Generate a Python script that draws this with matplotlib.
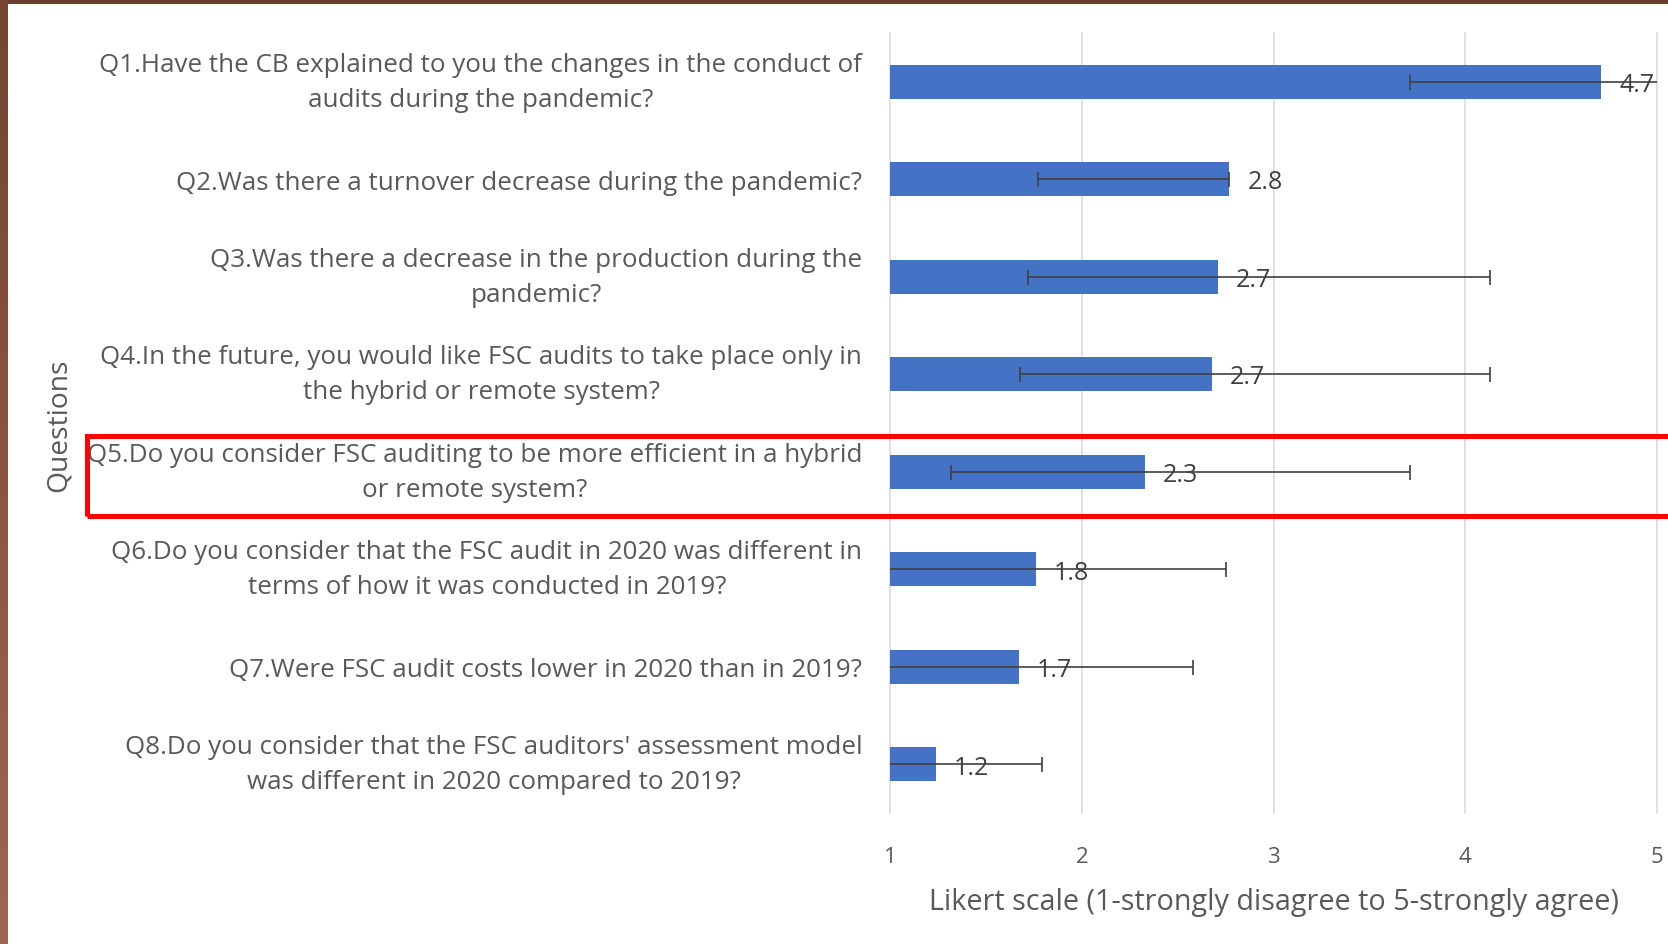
import matplotlib.pyplot as plt
import numpy as np
from matplotlib.colors import to_rgb, to_hex
from matplotlib.patches import Rectangle

questions = [
    "Q1.Have the CB explained to you the changes in the conduct of\naudits during the pandemic?",
    "Q2.Was there a turnover decrease during the pandemic?",
    "Q3.Was there a decrease in the production during the\npandemic?",
    "Q4.In the future, you would like FSC audits to take place only in\nthe hybrid or remote system?",
    "Q5.Do you consider FSC auditing to be more efficient in a hybrid\nor remote system?",
    "Q6.Do you consider that the FSC audit in 2020 was different in\nterms of how it was conducted in 2019?",
    "Q7.Were FSC audit costs lower in 2020 than in 2019?",
    "Q8.Do you consider that the FSC auditors' assessment model\nwas different in 2020 compared to 2019?",
]
means = [4.71, 2.77, 2.71, 2.68, 2.33, 1.76, 1.67, 1.24]
err_minus = [1.0, 1.0, 0.99, 1.0, 1.01, 1.0, 1.0, 1.0]
err_plus = [1.0, 0.0, 1.42, 1.45, 1.38, 0.99, 0.91, 0.55]
x_ticks = [1, 2, 3, 4, 5]

FONT = "Open Sans"
TEXT_GRAY = "#595959"
DARK_GRAY = "#404040"
BAR_BLUE = "#4472C4"

plt.rcParams["font.family"] = [FONT, "DejaVu Sans"]

fig = plt.figure(figsize=(16.68, 9.45), dpi=100)
fig.patch.set_facecolor("white")
ax = fig.add_axes([0.5336, 0.1386, 0.4598, 0.8255])

y = np.arange(len(questions))
ax.barh(y, means, left=0, height=0.35, color=BAR_BLUE, zorder=2)
ax.errorbar(
    means, y, xerr=[err_minus, err_plus], fmt="none", ecolor=DARK_GRAY,
    elinewidth=1.2, capsize=5.4, capthick=1.2, zorder=3,
)
for yi, m in zip(y, means):
    ax.annotate(
        f"{m:.1f}", (m, yi), xytext=(13, -2), textcoords="offset points",
        ha="left", va="center", fontsize=18, color=DARK_GRAY, zorder=4,
    )

ax.set_xlim(1, 5)
ax.set_ylim(len(questions) - 0.5, -0.5)
ax.set_xticks(x_ticks)
ax.set_yticks(y)
ax.set_yticklabels(questions, fontsize=18.7, color=TEXT_GRAY, linespacing=1.52)
for lbl in ax.get_yticklabels():
    lbl.set_multialignment("center")
    if "\n" in lbl.get_text():
        lbl.set_verticalalignment("center")
ax.tick_params(axis="y", length=0, pad=20)
ax.tick_params(axis="x", length=0, pad=24, labelsize=16, labelcolor=TEXT_GRAY)
ax.grid(axis="x", color="#D9D9D9", linewidth=1.1)
ax.set_axisbelow(True)
for gl in ax.get_xgridlines():
    gl.set_clip_on(False)
for s in ax.spines.values():
    s.set_visible(False)

ax.set_xlabel("Likert scale (1-strongly disagree to 5-strongly agree)",
              fontsize=20.7, color=TEXT_GRAY, labelpad=14)
fig.text(0.035, 0.55, "Questions", rotation=90, fontsize=20.3, color=TEXT_GRAY,
         ha="center", va="center")

# slide frame: brown strips on top and left
fig.patches.append(Rectangle((0, 1 - 5 / 945), 1, 5 / 945, transform=fig.transFigure,
                             facecolor="#6A3E2C", edgecolor="none", zorder=10))
top_c, bot_c = np.array(to_rgb("#74442F")), np.array(to_rgb("#9C6652"))
n_seg = 40
for i in range(n_seg):
    c = top_c + (bot_c - top_c) * i / (n_seg - 1)
    fig.patches.append(Rectangle((0, 1 - (i + 1) / n_seg), 8 / 1668, 1 / n_seg + 0.001,
                                 transform=fig.transFigure, facecolor=to_hex(c),
                                 edgecolor="none", zorder=10))

# red highlight box around Q5
fig.patches.append(Rectangle((87 / 1668, 1 - 516.5 / 945), 1.0, 79.5 / 945,
                             transform=fig.transFigure, fill=False,
                             edgecolor="#FF0000", linewidth=3.6, zorder=11))

fig.savefig("out.png", dpi=100)
